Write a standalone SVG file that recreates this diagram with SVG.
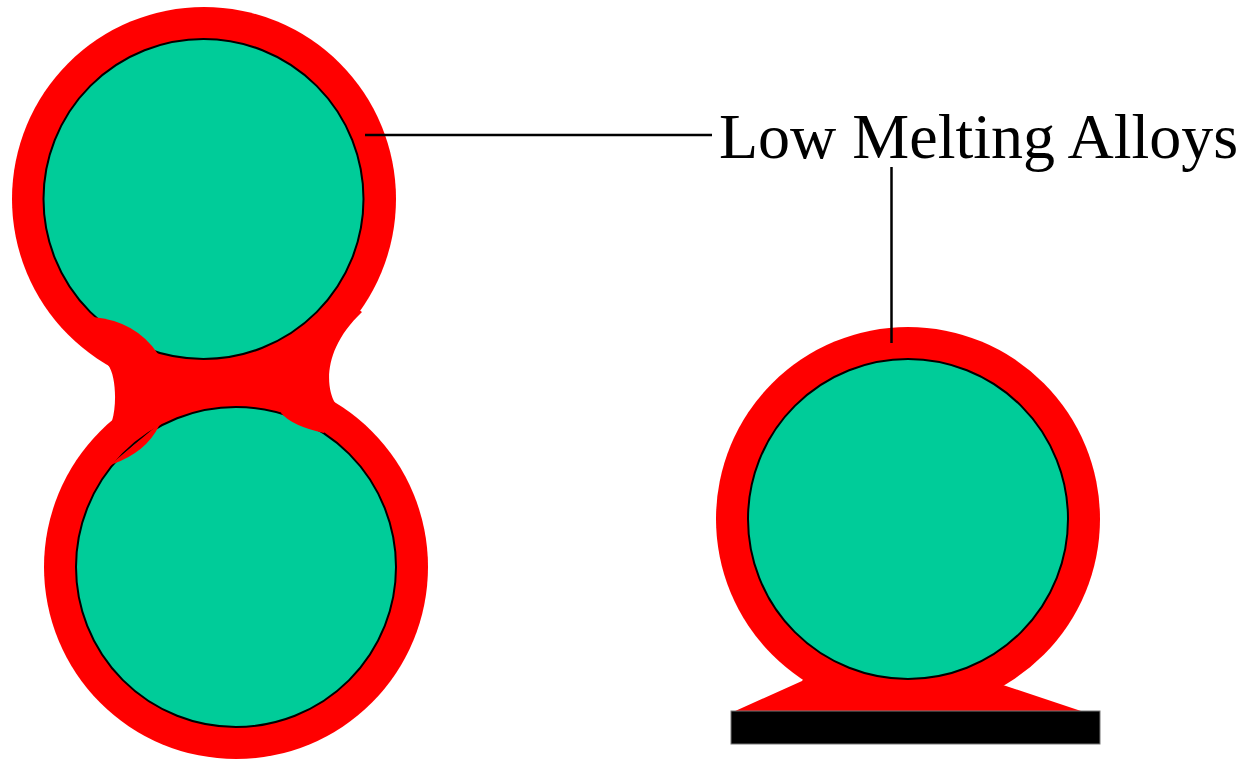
<svg xmlns="http://www.w3.org/2000/svg" width="1249" height="759" viewBox="0 0 1249 759">
  <style>
    .ring { fill: #ff0000; }
    .solder { fill: #ff0000; stroke: none; }
    .core { fill: #00cc99; stroke: #000000; stroke-width: 2; }
    .leader { stroke: #000000; stroke-width: 2.5; fill: none; }
    .label { font-family: "Liberation Serif", "Times New Roman", serif; font-size: 64px; fill: #000000; }
  </style>
  <rect width="1249" height="759" fill="#ffffff"/>

  <!-- Two coated particles joined by a solder neck -->
  <g id="particle-pair">
    <circle class="ring" cx="204" cy="199" r="192"/>
    <circle class="ring" cx="236" cy="567" r="192"/>
    <path class="solder" d="M 108,365 C 116,375 117,405 112,421 L 236,567 L 335,403 C 325,385 324,348 362,312 L 204,199 Z"/>
    <circle class="core" cx="203.5" cy="199" r="160"/>
    <circle class="core" cx="236" cy="567" r="160"/>
    <!-- solder creeping over the cores -->
    <path class="solder" d="M 93,317 Q 136,321 158,354 L 162,364 L 86,322 Z"/>
    <path class="solder" d="M 113,464 Q 146,452 159,426 L 166,418 L 104,470 Z"/>
    <path class="solder" d="M 281,413 Q 292,426 324,433 L 328,425 L 283,405 Z"/>
  </g>

  <!-- Coated particle wetted onto a substrate -->
  <g id="particle-on-substrate">
    <circle class="ring" cx="908" cy="519" r="192"/>
    <path class="solder" d="M 802,681 L 733,712 L 1084,712 L 1003,685 L 908,519 Z"/>
    <circle class="core" cx="908" cy="519" r="160"/>
    <rect x="731" y="711" width="369" height="33" fill="#000000" stroke="#777777" stroke-width="1"/>
  </g>

  <g id="connectors">
    <line class="leader" x1="365" y1="135" x2="712" y2="135"/>
    <line class="leader" x1="891.5" y1="167" x2="891.5" y2="343"/>
  </g>

  <g id="label">
    <text class="label" x="719" y="158">Low Melting Alloys</text>
  </g>
</svg>
